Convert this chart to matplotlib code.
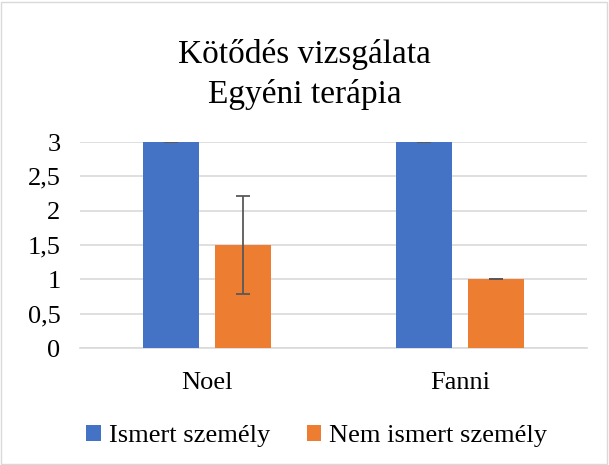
import numpy as np
import matplotlib.pyplot as plt
from matplotlib.patches import Rectangle
from matplotlib.ticker import FuncFormatter

plt.rcParams["font.family"] = ["Liberation Serif", "DejaVu Serif"]

# chart data
categories = ["Noel", "Fanni"]
series_names = ["Ismert személy", "Nem ismert személy"]
known = [3, 3]
unknown = [1.5, 1]
known_err = [0, 0]
unknown_err = [0.71, 0]
colors = ["#4472C4", "#ED7D31"]

fig = plt.figure(figsize=(6.09, 4.65), dpi=100)
# light chart-area border like in Excel
fig.patches.append(Rectangle((0.002, 0.002), 0.994, 0.994, transform=fig.transFigure,
                             fill=False, edgecolor="#d9d9d9", linewidth=1.0))

ax = fig.add_axes([0.1314, 0.2516, 0.8326, 0.443])

x = np.arange(len(categories))
w = 0.221
gap = 0.063
off = (w + gap) / 2
err_kw = dict(ecolor="#595959", elinewidth=1.3, capsize=5, capthick=1.3)
ax.bar(x - off, known, w, color=colors[0], yerr=known_err, error_kw=err_kw,
       label=series_names[0], zorder=3)
ax.bar(x + off, unknown, w, color=colors[1], yerr=unknown_err, error_kw=err_kw,
       label=series_names[1], zorder=3)

ax.set_xlim(-0.5, 1.5)
ax.set_ylim(0, 3)
ax.set_yticks(np.arange(0, 3.01, 0.5))
ax.yaxis.set_major_formatter(FuncFormatter(lambda v, p: f"{v:g}".replace(".", ",")))
ax.set_xticks(x)
ax.set_xticklabels(categories)
ax.grid(axis="y", color="#d9d9d9", linewidth=1.2, zorder=0)
for s in ["top", "right", "left"]:
    ax.spines[s].set_visible(False)
ax.spines["bottom"].set_color("#d9d9d9")
ax.spines["bottom"].set_linewidth(1.2)
ax.tick_params(axis="both", length=0, labelsize=19, colors="black")
ax.tick_params(axis="y", pad=14)
ax.tick_params(axis="x", pad=17)

fig.text(0.5, 0.84, "Kötődés vizsgálata\nEgyéni terápia", ha="center", va="center",
         fontsize=24, linespacing=1.38)

fig.legend(loc="center", bbox_to_anchor=(0.52, 0.062), ncol=2, frameon=False,
           fontsize=19, handlelength=0.55, handleheight=0.55, handletextpad=0.3,
           columnspacing=1.4)

fig.savefig("out.png", dpi=100)
